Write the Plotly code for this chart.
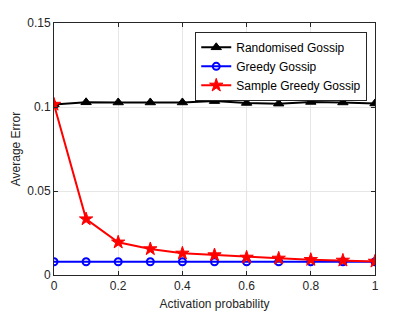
import plotly.graph_objects as go

x_vals = [0, 0.1, 0.2, 0.3, 0.4, 0.5, 0.6, 0.7, 0.8, 0.9, 1.0]
randomised = [0.1015, 0.1028, 0.1027, 0.1027, 0.1027, 0.1035, 0.1024, 0.1020, 0.1030, 0.1027, 0.1021]
greedy = [0.0079, 0.0079, 0.0079, 0.0079, 0.0079, 0.0079, 0.0079, 0.0079, 0.0079, 0.0079, 0.0079]
sample_greedy = [0.1015, 0.0333, 0.0195, 0.0155, 0.0129, 0.0119, 0.0105, 0.0099, 0.0091, 0.0087, 0.0081]

x_ticks = [0, 0.2, 0.4, 0.6, 0.8, 1]
x_tick_text = ["0", "0.2", "0.4", "0.6", "0.8", "1"]
y_ticks = [0, 0.05, 0.1, 0.15]
y_tick_text = ["0", "0.05", "0.1", "0.15"]

fig = go.Figure()
fig.add_trace(go.Scatter(x=x_vals, y=randomised, name="Randomised Gossip", mode="lines+markers",
                         line=dict(color="black", width=2),
                         marker=dict(symbol="triangle-up", size=9, color="black",
                                     line=dict(color="black", width=1))))
fig.add_trace(go.Scatter(x=x_vals, y=greedy, name="Greedy Gossip", mode="lines+markers",
                         line=dict(color="blue", width=2),
                         marker=dict(symbol="circle-open", size=7, color="blue",
                                     line=dict(color="blue", width=2))))
fig.add_trace(go.Scatter(x=x_vals, y=sample_greedy, name="Sample Greedy Gossip", mode="lines+markers",
                         line=dict(color="red", width=2),
                         marker=dict(symbol="star", size=10, color="red",
                                     line=dict(color="red", width=1))))

axis_common = dict(showline=True, linecolor="#262626", linewidth=1, mirror="ticks",
                   ticks="inside", ticklen=4, tickcolor="#262626", automargin=False,
                   showgrid=True, gridcolor="#e6e6e6", gridwidth=1, zeroline=False,
                   tickfont=dict(family="Liberation Sans, Arial", size=12, color="#262626"))

# page body has an 8px default margin, so the figure is sized to fit the window
fig.update_layout(
    width=407, height=304,
    margin=dict(l=46, r=40, t=15, b=37),
    paper_bgcolor="white", plot_bgcolor="white",
    font=dict(family="Liberation Sans, Arial", size=12, color="#262626"),
    xaxis=dict(range=[0, 1], tickvals=x_ticks, ticktext=x_tick_text,
               title=dict(text="Activation probability", standoff=7, font=dict(size=12)),
               **axis_common),
    yaxis=dict(range=[0, 0.15], tickvals=y_ticks, ticktext=y_tick_text,
               title=dict(text="Average Error", standoff=4, font=dict(size=12)),
               **axis_common),
    legend=dict(x=0.44, y=0.965, xanchor="left", yanchor="top",
                bgcolor="white", bordercolor="#262626", borderwidth=1,
                font=dict(size=12, color="black"), tracegroupgap=0,
                itemwidth=30),
    showlegend=True,
)

fig.write_html("out.html")
